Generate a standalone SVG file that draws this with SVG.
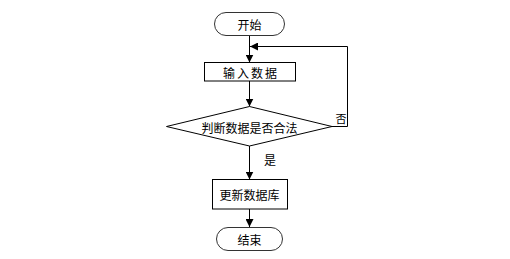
<svg xmlns="http://www.w3.org/2000/svg" width="510" height="259" viewBox="0 0 510 259">
<style>
.shape{fill:#fff;stroke:#000;stroke-width:1}
.term{fill:#fff;stroke:#333;stroke-width:1}
.t{font-family:"Noto Sans CJK SC","Noto Sans CJK JP",sans-serif;font-size:12px;fill:#000;text-anchor:middle;dominant-baseline:central}
.c{fill:none;stroke:#000;stroke-width:1}
</style>
<defs>
<marker id="ah" markerWidth="8" markerHeight="8" refX="8" refY="4" orient="auto" markerUnits="userSpaceOnUse">
<path d="M0,0 L8,4 L0,8 Z" fill="#000"/>
</marker>
</defs>
<rect width="510" height="259" fill="#fff"/>
<g id="connectors">
<line class="c" x1="249.5" y1="36" x2="249.5" y2="62.5" marker-end="url(#ah)"/>
<line class="c" x1="249.5" y1="81" x2="249.5" y2="106.5" marker-end="url(#ah)"/>
<line class="c" x1="249.5" y1="146" x2="249.5" y2="179.5" marker-end="url(#ah)"/>
<line class="c" x1="249.5" y1="209" x2="249.5" y2="227" marker-end="url(#ah)"/>
<polyline class="c" points="332,126.5 347.5,126.5 347.5,46.5 250,46.5" marker-end="url(#ah)"/>
<text class="t" x="270" y="159">是</text>
<text class="t" x="341" y="118" style="font-size:11px">否</text>
</g>
<g id="start">
<rect class="term" x="214.5" y="12.5" width="70" height="23" rx="11.5"/>
<text class="t" x="249.5" y="24">开始</text>
</g>
<g id="input">
<rect class="shape" x="204.5" y="62.5" width="91" height="18.5"/>
<text class="t" x="251" y="72" style="letter-spacing:2px">输入数据</text>
</g>
<g id="check">
<polygon class="shape" points="249.5,106.5 332,126.5 249.5,146 166.5,126.5"/>
<text class="t" x="249.5" y="127">判断数据是否合法</text>
</g>
<g id="update">
<rect class="shape" x="212.5" y="179.5" width="75" height="29.5"/>
<text class="t" x="249.5" y="194.5">更新数据库</text>
</g>
<g id="end">
<rect class="term" x="216.5" y="227.5" width="66" height="23" rx="11.5"/>
<text class="t" x="249.5" y="239">结束</text>
</g>
</svg>
